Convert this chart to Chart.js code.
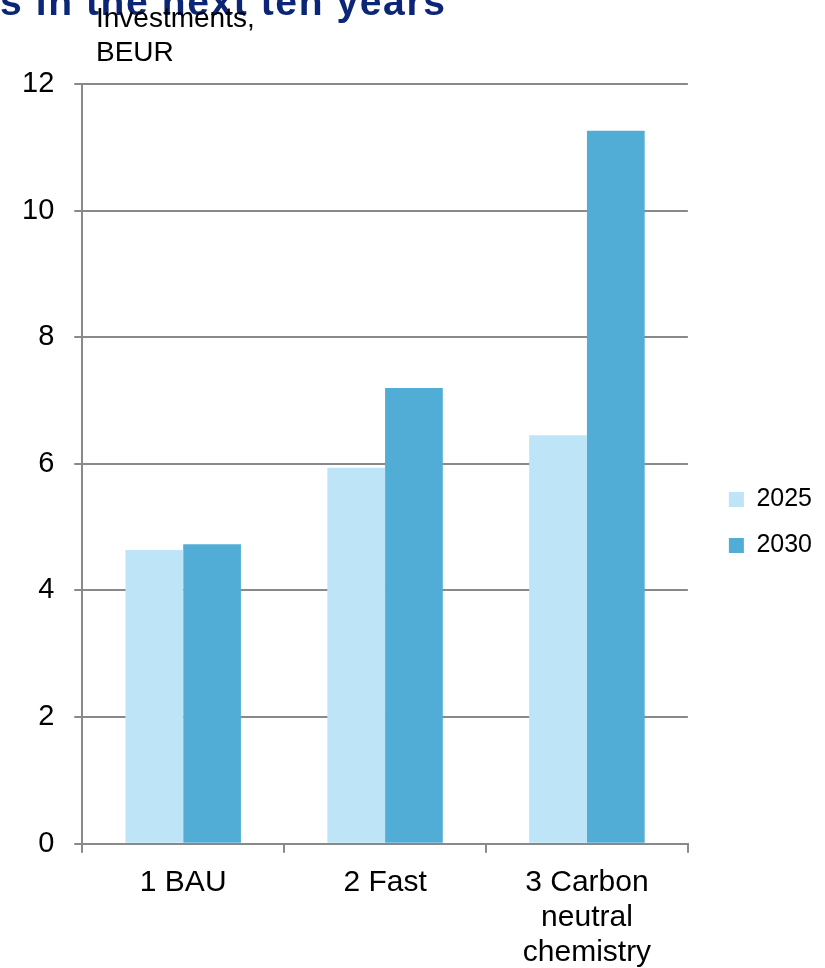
<!DOCTYPE html>
<html lang="en">
  <head>
    <meta charset="UTF-8" />
    <title>Investments in the next ten years</title>
    <script src="https://cdn.jsdelivr.net/npm/chart.js"></script>
    <style>
      body { margin: 0; background: #fff; }
      #wrap { position: relative; width: 825px; height: 968px; overflow: hidden; }
      #title {
        position: absolute; left: 0; top: -18px; margin: 0;
        font: bold 39px 'Liberation Sans', Arial, sans-serif; line-height: 39px;
        letter-spacing: 1.6px;
        color: #0b2676; white-space: nowrap;
      }
      #unit {
        position: absolute; left: 96px; top: 1px;
        font: 28px 'Liberation Sans', Arial, sans-serif; line-height: 34px;
        color: #000;
      }
    </style>
  </head>
  <body>
    <div id="wrap">
      <canvas id="investChart" width="825" height="968"></canvas>
      <h1 id="title">s in the next ten years</h1>
      <div id="unit">Investments,<br />BEUR</div>
    </div>

    <script>
      // values
      const scenarios = ['1 BAU', '2 Fast', ['3 Carbon', 'neutral', 'chemistry']]
      const years = ['2025', '2030']
      const invest2025 = [4.64, 5.94, 6.45]
      const invest2030 = [4.73, 7.2, 11.26]
      const yTicks = [0, 2, 4, 6, 8, 10, 12]

      const gridGrey = '#898989'

      // nudge the legend away from the plot, like the original
      const legendShift = {
        id: 'legendShift',
        afterLayout(chart) {
          const lg = chart.legend
          lg.left += 20
          lg.right += 20
          lg.top -= 11
          lg.bottom -= 11
        }
      }

      const ctx = document.getElementById('investChart').getContext('2d')
      new Chart(ctx, {
        type: 'bar',
        data: {
          labels: scenarios,
          datasets: [
            {
              label: years[0],
              data: invest2025,
              backgroundColor: '#bde4f7',
              borderWidth: 0
            },
            {
              label: years[1],
              data: invest2030,
              backgroundColor: '#52add6',
              borderWidth: 0
            }
          ]
        },
        options: {
          responsive: false,
          animation: false,
          devicePixelRatio: 1,
          categoryPercentage: 0.572,
          barPercentage: 1,
          layout: { padding: { left: 2, top: 84, right: 23, bottom: -15 } },
          plugins: {
            tooltip: { enabled: false },
            legend: {
              position: 'right',
              labels: {
                boxWidth: 15,
                boxHeight: 15,
                padding: 21,
                color: '#000',
                font: { family: "'Liberation Sans', Arial, sans-serif", size: 25 }
              }
            }
          },
          scales: {
            x: {
              grid: {
                drawOnChartArea: false,
                color: gridGrey,
                lineWidth: 2,
                tickLength: 9
              },
              border: { color: gridGrey, width: 2 },
              ticks: {
                color: '#000',
                padding: 12.5,
                maxRotation: 0,
                font: { family: "'Liberation Sans', Arial, sans-serif", size: 30, lineHeight: 1.17 }
              }
            },
            y: {
              min: yTicks[0],
              max: yTicks[yTicks.length - 1],
              afterBuildTicks(axis) {
                axis.ticks = yTicks.map(v => ({ value: v }))
              },
              grid: { color: gridGrey, lineWidth: 2, tickLength: 8 },
              border: { color: gridGrey, width: 2 },
              ticks: {
                color: '#000',
                padding: 20,
                font: { family: "'Liberation Sans', Arial, sans-serif", size: 29 }
              }
            }
          }
        },
        plugins: [legendShift]
      })
    </script>
  </body>
</html>
